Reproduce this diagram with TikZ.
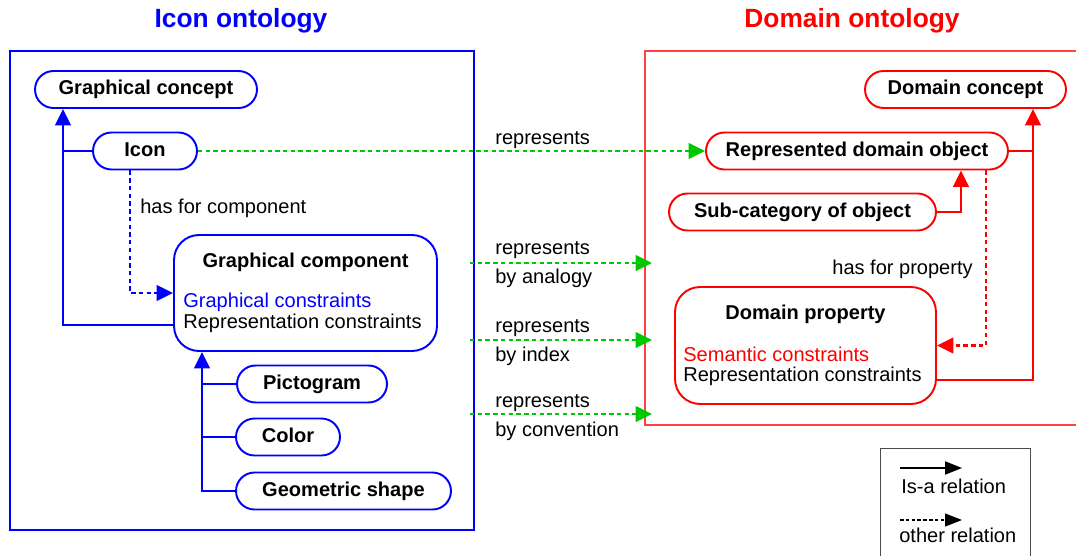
\documentclass[tikz,border=0pt]{standalone}
\usepackage{fontspec}
\setmainfont{Liberation Sans}
\usepackage{tikz}
\usetikzlibrary{arrows.meta}
\definecolor{relgreen}{RGB}{0,200,0}

\begin{document}
\begin{tikzpicture}[
    x = 0.02cm, y = -0.02cm,
    every node/.style = {font=\fontsize{11.4}{12}\selectfont, inner sep=0pt},
    heading/.style = {font=\fontsize{15}{18}\selectfont\bfseries, anchor=base},
    pill/.style = {
        draw, line width=1.1pt, rounded corners=0.37cm, minimum height=0.74cm,
        text height=8.3pt, text depth=2.4pt, font=\fontsize{11.4}{12}\selectfont\bfseries
    },
    bigbox/.style = {draw, line width=1.1pt, rounded corners=0.5cm},
    txt/.style = {anchor=base west},
    boldtxt/.style = {anchor=base, font=\fontsize{11.4}{12}\selectfont\bfseries},
    panel/.style = {draw, line width=0.65pt},
    isaline/.style = {line width=1.6pt},
    isa/.style = {isaline, -{Triangle[length=0.33cm, width=0.31cm]}},
    otherrel/.style = {line width=1.5pt, dash pattern=on 2.5pt off 1.9pt, -{Triangle[length=0.33cm, width=0.31cm]}},
    greenrel/.style = {otherrel, relgreen},
    legendarrow/.style = {black, -{Triangle[length=0.34cm, width=0.26cm]}}
  ]
    \clip (0,0) rectangle (1076,555);

    % les deux cadres
    \node[panel, draw=blue, minimum width=9.28cm, minimum height=9.58cm] (iconside) at (242,290.5) {};
    \node[panel, draw=red!75, minimum width=8.9cm, minimum height=7.48cm] (domainside) at (867.5,238) {};
    \node[heading, blue] (icontitle) at (241,27) {Icon ontology};
    \node[heading, red] (domaintitle) at (852,27) {Domain ontology};

    % ontologie des icones
    \node[pill, draw=blue, minimum width=4.44cm] (gconcept) at (146,89.5) {Graphical concept};
    \node[pill, draw=blue, minimum width=2.08cm] (icon) at (145,151) {Icon};
    \node[bigbox, draw=blue, minimum width=5.26cm, minimum height=2.32cm] (gcomp) at (305.5,293) {};
    \node[boldtxt] (gcomptitle) at (305.5,267) {Graphical component};
    \node[txt, blue] (gcompgraph) at (183,307) {Graphical constraints};
    \node[txt] (gcomprepr) at (183,328) {Representation constraints};
    \node[pill, draw=blue, minimum width=3cm] (picto) at (312,384) {Pictogram};
    \node[pill, draw=blue, minimum width=2.08cm] (colornode) at (288,437) {Color};
    \node[pill, draw=blue, minimum width=4.3cm] (geo) at (343.5,491) {Geometric shape};

    % ontologie du domaine
    \node[pill, draw=red, minimum width=4.02cm] (dconcept) at (965.5,89.5) {Domain concept};
    \node[pill, draw=red, minimum width=6.04cm] (rdo) at (857,151) {Represented domain object};
    \node[pill, draw=red, minimum width=5.34cm] (subcat) at (802.5,212) {Sub-category of object};
    \node[bigbox, draw=red, minimum width=5.22cm, minimum height=2.34cm] (dprop) at (805.5,345.5) {};
    \node[boldtxt] (dproptitle) at (805.5,319) {Domain property};
    \node[txt, red] (dpropsem) at (683,361) {Semantic constraints};
    \node[txt] (dproprepr) at (683,381) {Representation constraints};

    % relations is-a
    \coordinate (trunkA) at (63,325);
    \coordinate (trunkB) at (202,0);
    \coordinate (trunkC) at (1033,380);
    \coordinate (trunkD) at (961,0);
    \draw[isa, blue] (gcomp.west |- trunkA) -- (trunkA) -- (gconcept.south -| trunkA);
    \draw[isaline, blue] (icon.west) -- (icon.west -| trunkA);
    \draw[isa, blue] (geo.west) -| (gcomp.south -| trunkB);
    \draw[isaline, blue] (picto.west) -- (picto.west -| trunkB);
    \draw[isaline, blue] (colornode.west) -- (colornode.west -| trunkB);
    \draw[isa, red] (dprop.east |- trunkC) -- (trunkC) -- (dconcept.south -| trunkC);
    \draw[isaline, red] (rdo.east) -- (rdo.east -| trunkC);
    \draw[isa, red] (subcat.east) -| (rdo.south -| trunkD);

    % autres relations
    \coordinate (hasA) at (130,0);
    \coordinate (hasB) at (986,0);
    \draw[otherrel, blue] (icon.south -| hasA) |- (gcomp.west);
    \node[txt] (hascomp) at (140,213) {has for component};
    \draw[otherrel, red] (rdo.south -| hasB) |- (dprop.east);
    \node[txt, anchor=base east] (hasprop) at (973,274) {has for property};

    % represents
    \draw[greenrel] (icon.east) -- (rdo.west);
    \node[txt] (repicon) at (495,144) {represents};
    \coordinate (analogyA) at (470,263);
    \coordinate (analogyB) at (652,263);
    \draw[greenrel] (analogyA) -- (analogyB);
    \node[txt] (repanalogy) at (495,254) {represents};
    \node[txt] (byanalogy) at (495,283) {by analogy};
    \coordinate (indexA) at (470,340);
    \coordinate (indexB) at (652,340);
    \draw[greenrel] (indexA) -- (indexB);
    \node[txt] (repindex) at (495,332) {represents};
    \node[txt] (byindex) at (495,361) {by index};
    \coordinate (conventionA) at (470,414);
    \coordinate (conventionB) at (652,414);
    \draw[greenrel] (conventionA) -- (conventionB);
    \node[txt] (repconvention) at (495,407) {represents};
    \node[txt] (byconvention) at (495,436) {by convention};

    % legende
    \node[panel, draw=black!70, minimum width=3cm, minimum height=2.6cm, anchor=north west] (legend) at (880,448) {};
    \coordinate (isaA) at (900,468);
    \coordinate (isaB) at (962,468);
    \draw[legendarrow, line width=1.1pt] (isaA) -- (isaB);
    \node[txt] (isatext) at (901,493) {Is-a relation};
    \coordinate (otherA) at (900,520);
    \coordinate (otherB) at (962,520);
    \draw[legendarrow, line width=0.7pt, dash pattern=on 2pt off 1.3pt] (otherA) -- (otherB);
    \node[txt] (othertext) at (899,542) {other relation};
\end{tikzpicture}
\end{document}
